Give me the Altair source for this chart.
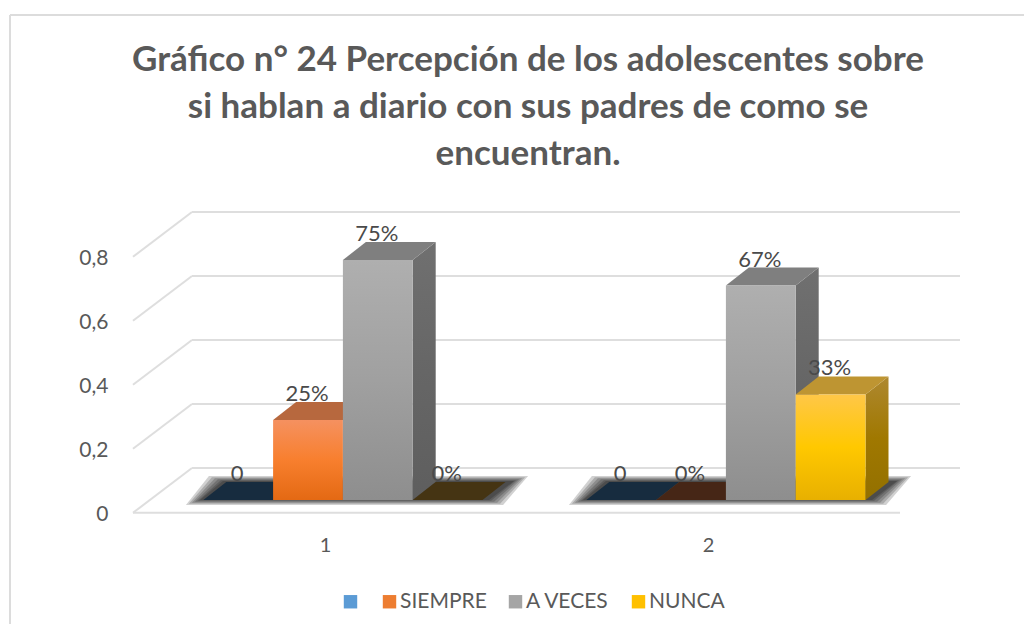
import altair as alt
import pandas as pd

# ---- data
CATEGORIES = [1, 2]
SERIES = [" ", "SIEMPRE", "A VECES", "NUNCA"]
VALUES_1 = [0, 0.25, 0.75, 0]
VALUES_2 = [0, 0, 0.67, 0.33]
LABELS_1 = ["0", "25%", "75%", "0%"]
LABELS_2 = ["0", "0%", "67%", "33%"]
AXIS_TICKS = [0, 0.2, 0.4, 0.6, 0.8]
TITLE_LINES = [
    "Gráfico n° 24 Percepción de los adolescentes  sobre",
    "si hablan a diario con sus padres de como se",
    "encuentran.",
]

# ---- styling
FONT = "Lato"
TEXT = "#595959"
GRID = "#DEDEDE"
LEGEND_COLORS = ["#5B9BD5", "#ED7D31", "#A5A5A5", "#FFC000"]
TOP_COLORS = ["#172C3F", "#B7683E", "#7F7F7F", "#BE9532"]
FLOOR_COLORS = ["#172C3F", "#462616", "#7F7F7F", "#453413"]
FRONT_STOPS = [None,
               ["#F59160", "#F87F2E", "#E46913"],
               ["#AFAFAF", "#A0A0A0", "#8E8E8E"],
               ["#FFC748", "#FFC800", "#E8B000"]]
SIDE_STOPS = [None,
              ["#9A5020", "#8A4A1C", "#8A4A1C"],
              ["#707070", "#666666", "#5E5E5E"],
              ["#AE8830", "#A07800", "#937000"]]

# ---- projection of the pseudo-3D scene, in data units
PX_X, PX_Y = 383.0, 320.0           # pixels per category / per unit of value
BAR_W = 69.8 / PX_X
BAR_SHIFT = -0.6 / PX_X
DEPTH_X, DEPTH_Y = 23 / PX_X, 18 / PX_Y
FLOOR_FRONT, FLOOR_BACK = -0.04, 0.1
WALL_L_FRONT, WALL_L_BACK = 0.4504, 0.6044
WALL_R_FRONT, WALL_R_BACK = 2.453, 2.6097

W, H = 1016, 616
x_scale = alt.Scale(domain=[1 + (8 - 343.5) / PX_X, 1 + (8 + W - 343.5) / PX_X], nice=False, zero=False)
y_scale = alt.Scale(domain=[(500 - 8 - H) / PX_Y, (500 - 8) / PX_Y], nice=False, zero=False)

x_axis = alt.Axis(
    title=None, values=[c - 18.5 / PX_X for c in CATEGORIES], domain=False, ticks=False, grid=False,
    labelExpr="format(round(datum.value + 0.0483), 'd')", labelFont=FONT, labelFontSize=20,
    labelColor=TEXT, labelPadding=0, offset=-89)
y_axis = alt.Axis(
    title=None, values=[FLOOR_FRONT + v for v in AXIS_TICKS], domain=False, ticks=False, grid=False,
    labelExpr="datum.value < 0 ? '0' : replace(format(datum.value + 0.04, '.1f'), '.', ',')",
    labelFont=FONT, labelFontSize=21, labelColor=TEXT, labelPadding=0, labelOffset=2, offset=-(108 - 8))

X = lambda f: alt.X(f, type="quantitative", scale=x_scale, axis=x_axis)
Y = lambda f: alt.Y(f, type="quantitative", scale=y_scale, axis=y_axis)
X2 = lambda f: alt.X2(f)
Y2 = lambda f: alt.Y2(f)


def grad(stops):
    return alt.LinearGradient(
        gradient="linear", x1=0, x2=0, y1=0, y2=1,
        stops=[alt.GradientStop(color=c, offset=i / (len(stops) - 1)) for i, c in enumerate(stops)],
    )


layers = []

# frame of the chart
layers.append(alt.Chart(pd.DataFrame({"a": [0]})).mark_rule(color="#DCDCDC", strokeWidth=2).encode(
    x=alt.value(2), y=alt.value(7), y2=alt.value(H)))
layers.append(alt.Chart(pd.DataFrame({"a": [0]})).mark_rule(color="#DCDCDC", strokeWidth=2).encode(
    x=alt.value(2), x2=alt.value(W), y=alt.value(7)))

# walls and floor
walls = pd.DataFrame([
    {"x": WALL_L_BACK, "x1": WALL_R_BACK, "y": FLOOR_BACK + v, "y1": FLOOR_BACK + v} for v in AXIS_TICKS
] + [
    {"x": WALL_L_FRONT, "x1": WALL_L_BACK, "y": FLOOR_FRONT + v, "y1": FLOOR_BACK + v} for v in AXIS_TICKS
] + [
    {"x": WALL_L_FRONT, "x1": WALL_R_FRONT, "y": FLOOR_FRONT, "y1": FLOOR_FRONT},
])
layers.append(alt.Chart(walls).mark_rule(color=GRID, strokeWidth=2).encode(
    x=X("x"), x2=X2("x1"), y=Y("y"), y2=Y2("y1")))

# soft shadow on the floor: nested, faint copies give the blur
shadow_rows = []
for c in CATEGORIES:
    left = c - 2 * BAR_W
    right = c + 2 * BAR_W
    for lvl, e in enumerate([14, 11, 8, 5, 2, 0]):
        ex, ey = e / PX_X, 0.35 * e / PX_Y
        i = f"{c}-{lvl}"
        shadow_rows.append({"id": i, "y": -ey, "xl": left - 4 / PX_X - ex, "xr": right + 6 / PX_X + ex})
        shadow_rows.append({"id": i, "y": 19 / PX_Y + ey, "xl": left + 19 / PX_X - ex, "xr": right + 31 / PX_X + ex})
layers.append(alt.Chart(pd.DataFrame(shadow_rows)).mark_area(orient="horizontal", color="#000000", opacity=0.18).encode(
    y=Y("y"), x=X("xl"), x2=X2("xr"), detail="id:N"))

# bars
label_rows = []
for c, values, labels in zip(CATEGORIES, [VALUES_1, VALUES_2], [LABELS_1, LABELS_2]):
    for s, (v, lab) in enumerate(zip(values, labels)):
        L = c + (s - 2) * BAR_W + BAR_SHIFT
        R = L + BAR_W
        label_rows.append({"x": (L + R) / 2, "y": v, "t": lab})
        top = pd.DataFrame({"y": [v, v + DEPTH_Y], "xl": [L, L + DEPTH_X], "xr": [R, R + DEPTH_X]})
        fill = TOP_COLORS[s] if v > 0 else FLOOR_COLORS[s]
        if v > 0:
            side = pd.DataFrame({"x": [R, R + DEPTH_X], "y": [0, DEPTH_Y], "y1": [v, v + DEPTH_Y]})
            layers.append(alt.Chart(side).mark_area(orient="vertical", fill=grad(SIDE_STOPS[s])).encode(
                x=X("x"), y=Y("y"), y2=Y2("y1")))
        layers.append(alt.Chart(top).mark_area(orient="horizontal", fill=fill).encode(
            y=Y("y"), x=X("xl"), x2=X2("xr")))
        if v > 0:
            front = pd.DataFrame({"x": [L], "x1": [R], "y": [0], "y1": [v]})
            layers.append(alt.Chart(front).mark_rect(fill=grad(FRONT_STOPS[s])).encode(
                x=X("x"), x2=X2("x1"), y=Y("y"), y2=Y2("y1")))

# legend (zero-height rects carry the colour scale)
legend_df = pd.DataFrame({"s": SERIES, "x": [1] * 4, "x1": [1] * 4, "y": [0] * 4, "y1": [0] * 4})
layers.append(alt.Chart(legend_df).mark_rect().encode(
    x=X("x"), x2=X2("x1"), y=Y("y"), y2=Y2("y1"),
    color=alt.Color("s:N", sort=SERIES, scale=alt.Scale(domain=SERIES, range=LEGEND_COLORS),
                    legend=alt.Legend(title=None, orient="none", direction="horizontal", columns=4,
                                      legendX=332, legendY=583, symbolType="square", symbolSize=180,
                                      symbolStrokeWidth=0, labelFont=FONT, labelFontSize=21, labelColor=TEXT,
                                      labelOffset=0, columnPadding=18, labelLimit=200)),
))

# data labels
layers.append(alt.Chart(pd.DataFrame(label_rows)).mark_text(
    font=FONT, fontSize=22, color="#4A4A4A", baseline="middle", dy=-26, dx=-1).encode(
    x=X("x"), y=Y("y"), text="t:N"))

chart = alt.layer(*layers).properties(
    width=W, height=H, padding=0, background="white",
    autosize=alt.AutoSizeParams(type="none"),
    title=alt.Title(text=TITLE_LINES, font=FONT, fontSize=35, fontWeight="bold", color=TEXT,
                    lineHeight=47, anchor="middle", frame="group", offset=-164, dx=12),
).configure_view(stroke=None)

chart.save("out.html", embed_options={"renderer": "svg", "actions": False})
